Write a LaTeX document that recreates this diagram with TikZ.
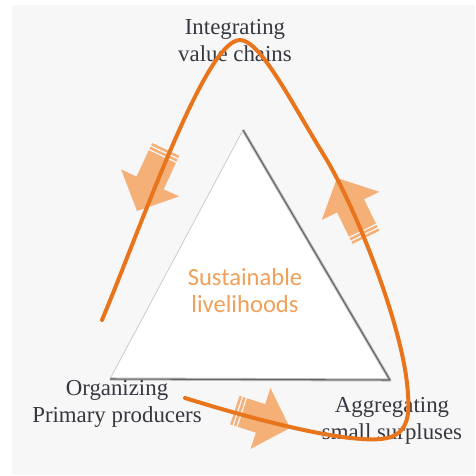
\documentclass[tikz,border=0pt]{standalone}
\usepackage{fontspec}
\setmainfont{Liberation Serif}
\newfontfamily\corefont{Carlito}

\definecolor{loopline}{RGB}{232,117,28}
\definecolor{arrowfill}{RGB}{245,176,120}
\definecolor{coretext}{RGB}{240,160,90}
\definecolor{labeltext}{RGB}{55,55,65}
\definecolor{panel}{RGB}{247,247,247}

\tikzset{
  lbl/.style={align=center, text=labeltext, font=\fontsize{19.5}{23}\selectfont},
  core/.style={align=center, text=coretext, font=\corefont\fontsize{21}{23}\selectfont},
  % fat arrow, tip at the origin, pointing along +x, #1 = total length
  pics/fatarrow/.style={code={
    \fill[arrowfill] (0,0) -- (-31,32) -- (-31,15) -- (-#1+8,15)
      -- (-#1+8,-15) -- (-31,-15) -- (-31,-32) -- cycle;
    \fill[arrowfill] (-#1+4,15) rectangle (-#1+6.5,-15);
    \fill[arrowfill] (-#1,15) rectangle (-#1+2.5,-15);
  }},
  pics/fatarrow/.default=66
}

\begin{document}
\begin{tikzpicture}[x=0.03cm, y=-0.03cm]
    \useasboundingbox (0,0) rectangle (475,476);
    \fill[white] (0,0) rectangle (475,476);
    \fill[panel] (12,5) rectangle (475,475);

    % triangle
    \coordinate (top) at (243,130);
    \coordinate (left) at (110,379);
    \coordinate (right) at (390,380);
    \fill[white] (top) -- (right) -- (left) -- cycle;
    \draw[black!22, line width=0.6pt] (left) -- (top);
    \draw[black!25, line width=2.6pt, line join=round] (top) -- (right) -- (left);
    \draw[black!62, line width=0.9pt, line join=round] (top) -- (right) -- (left);
    \node[core] (hub) at (245,290.5) {Sustainable\\livelihoods};

    % fat arrows round the triangle
    \pic[rotate=245] at (137,211) {fatarrow=68};
    \pic[rotate=116] at (337,178) {fatarrow=66};
    \pic[rotate=-18] at (290,428) {fatarrow=58};

    % corner labels
    \node[lbl] (chains) at (235,40.5) {Integrating\\value chains};
    \node[lbl] (producers) at (117,404) {Organizing\\Primary producers};
    \node[lbl] (surpluses) at (392,421) {Aggregating\\small surpluses};

    % the loop
    \draw[loopline, line width=3.4pt, line cap=round]
      (102,320) .. controls (140,230) and (205,40) .. (240,40)
      .. controls (260,40) and (290,100) .. (325,157)
      .. controls (355,206) and (405,330) .. (408,395)
      .. controls (412,440) and (390,442) .. (350,438)
      .. controls (300,432) and (230,412) .. (185,398);
\end{tikzpicture}
\end{document}
